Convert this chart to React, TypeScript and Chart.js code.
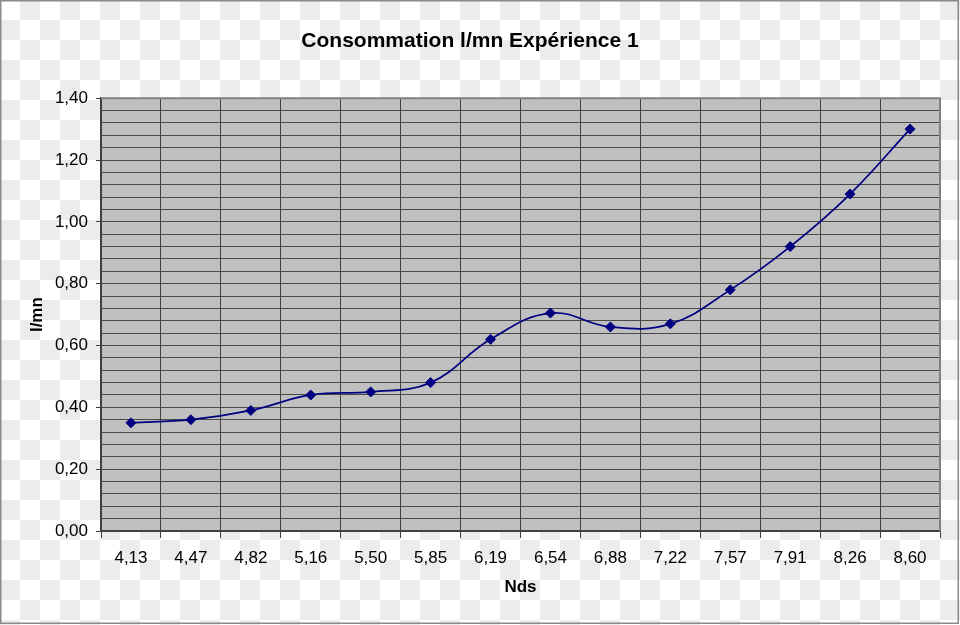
import React, { useEffect, useRef } from 'react';
import { Chart, registerables } from 'chart.js';

Chart.register(...registerables);

// ---- Data ----
const categories = ['4,13', '4,47', '4,82', '5,16', '5,50', '5,85', '6,19', '6,54', '6,88', '7,22', '7,57', '7,91', '8,26', '8,60'];
const consumption = [0.35, 0.36, 0.39, 0.44, 0.45, 0.48, 0.62, 0.705, 0.66, 0.67, 0.78, 0.92, 1.09, 1.30];
const yMin = 0;
const yMax = 1.4;
const yMajorStep = 0.2;
const yMinorStep = 0.04;

const chartTitle = 'Consommation l/mn Expérience 1';
const xTitle = 'Nds';
const yTitle = 'l/mn';

const FONT = '"Liberation Sans", Arial, Helvetica, sans-serif';

const isMajor = (v: number) => {
  const r = v / yMajorStep;
  return Math.abs(r - Math.round(r)) < 1e-6;
};

const framePlugin = {
  id: 'frame',
  beforeDraw(chart: any) {
    const { ctx, chartArea } = chart;
    ctx.save();
    ctx.fillStyle = '#c0c0c0';
    ctx.fillRect(chartArea.left, chartArea.top, chartArea.right - chartArea.left, chartArea.bottom - chartArea.top);
    ctx.restore();
  },
  afterDraw(chart: any) {
    const { ctx, chartArea, width, height } = chart;
    ctx.save();
    // plot area top/right border
    ctx.strokeStyle = '#808080';
    ctx.lineWidth = 2;
    ctx.beginPath();
    ctx.moveTo(chartArea.left, chartArea.top);
    ctx.lineTo(chartArea.right, chartArea.top);
    ctx.lineTo(chartArea.right, chartArea.bottom);
    ctx.stroke();
    // outer frame
    ctx.strokeStyle = '#8a8a8a';
    ctx.lineWidth = 1.5;
    ctx.strokeRect(0.75, 0.75, width - 2.5, height - 2.5);
    ctx.restore();
  },
};

export default function App() {
  const ref = useRef<HTMLCanvasElement | null>(null);

  useEffect(() => {
    if (!ref.current) return;
    const nMinor = Math.round((yMax - yMin) / yMinorStep);
    const chart = new Chart(ref.current, {
      type: 'line',
      data: {
        labels: categories,
        datasets: [
          {
            label: yTitle,
            data: consumption,
            borderColor: '#000080',
            backgroundColor: '#000080',
            borderWidth: 1.75,
            tension: 0.4,
            pointStyle: 'rectRot',
            pointRadius: 5,
            pointBorderWidth: 1,
            pointBorderColor: '#000080',
            pointBackgroundColor: '#000080',
            fill: false,
          },
        ],
      },
      options: {
        animation: false,
        responsive: false,
        layout: { padding: { left: 0, right: 20, top: 0, bottom: 0 } },
        plugins: {
          legend: { display: false },
          tooltip: { enabled: false },
          title: {
            display: true,
            text: chartTitle,
            color: '#000',
            font: { family: FONT, size: 21, weight: 'bold' },
            padding: { top: 29, bottom: 44 },
          },
        },
        scales: {
          x: {
            type: 'category',
            offset: true,
            afterFit: (scale: any) => {
              scale.height = 94;
            },
            grid: {
              offset: true,
              color: '#404040',
              lineWidth: 1,
              tickLength: 7,
              tickColor: '#404040',
              drawTicks: true,
            },
            border: { color: '#404040', width: 1.5 },
            ticks: {
              color: '#000',
              font: { family: FONT, size: 17 },
              padding: 10,
              maxRotation: 0,
              autoSkip: false,
            },
            title: {
              display: true,
              text: xTitle,
              color: '#000',
              font: { family: FONT, size: 17, weight: 'bold' },
              padding: { top: 27, bottom: 27 },
            },
          },
          y: {
            type: 'linear',
            min: yMin,
            max: yMax,
            afterFit: (scale: any) => {
              scale.width = 101;
            },
            afterBuildTicks: (scale: any) => {
              const t = [];
              for (let i = 0; i <= nMinor; i++) t.push({ value: yMin + i * yMinorStep });
              scale.ticks = t;
            },
            grid: {
              color: '#4a4a4a',
              lineWidth: 1,
              tickLength: 5,
              tickColor: (c: any) => (c.tick && isMajor(c.tick.value) ? '#404040' : 'rgba(0,0,0,0)'),
            },
            border: { color: '#404040', width: 1.5 },
            ticks: {
              autoSkip: false,
              color: '#000',
              font: { family: FONT, size: 17 },
              padding: 8,
              callback: (v: any) => (isMajor(Number(v)) ? Number(v).toFixed(2).replace('.', ',') : ''),
            },
            title: {
              display: true,
              text: yTitle,
              color: '#000',
              font: { family: FONT, size: 17, weight: 'bold' },
              padding: { top: 27, bottom: 27 },
            },
          },
        },
      },
      plugins: [framePlugin],
    } as any);
    return () => chart.destroy();
  }, []);

  return (
    <div
      style={{
        position: 'absolute',
        left: 0,
        top: 0,
        width: 960,
        height: 625,
        backgroundColor: '#ffffff',
        backgroundImage: 'conic-gradient(#ececec 25%, #ffffff 0 50%, #ececec 0 75%, #ffffff 0)',
        backgroundSize: '40px 40px',
      }}
    >
      <canvas ref={ref} width={960} height={625} style={{ display: 'block', width: 960, height: 625 }} />
    </div>
  );
}
